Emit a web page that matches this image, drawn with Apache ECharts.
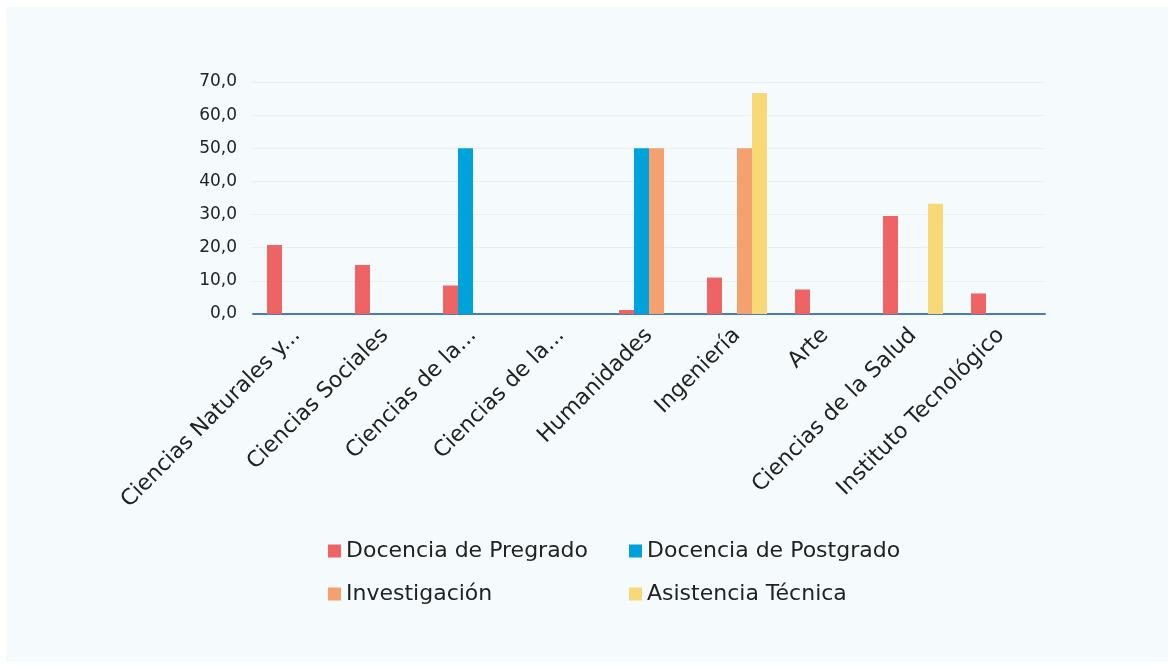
<!DOCTYPE html>
<html>
<head>
<meta charset="utf-8">
<script src="https://cdn.jsdelivr.net/npm/echarts@6/dist/echarts.min.js"></script>
<style>
  html, body { margin: 0; padding: 0; background: #ffffff; }
  #chart { position: absolute; left: 6px; top: 7px; width: 1162px; height: 655px; background: #f5fbfc; }
</style>
</head>
<body>
<div id="chart"></div>
<script>
// categorias (etiquetas ya recortadas como en el original)
var categorias = ['Ciencias Naturales y...', 'Ciencias Sociales', 'Ciencias de la...', 'Ciencias de la...',
  'Humanidades', 'Ingeniería', 'Arte', 'Ciencias de la Salud', 'Instituto Tecnológico'];

var pregrado      = [20.8, 14.8, 8.6, 0, 1.2, 11.0, 7.4, 29.6, 6.2];
var postgrado     = [0, 0, 50.0, 0, 50.0, 0, 0, 0, 0];
var investigacion = [0, 0, 0, 0, 50.0, 50.0, 0, 0, 0];
var asistencia    = [0, 0, 0, 0, 0, 66.7, 0, 33.3, 0];

var nombres = ['Docencia de Pregrado', 'Docencia de Postgrado', 'Investigación', 'Asistencia Técnica'];
var colores = ['#ee6363', '#00a2da', '#f5a06f', '#f8d877'];

var chart = echarts.init(document.getElementById('chart'));

function serie(i, datos) {
  return {
    name: nombres[i],
    type: 'bar',
    data: datos,
    barWidth: 15,
    barGap: '0%',
    itemStyle: { color: colores[i] }
  };
}

var fuente = '"DejaVu Sans", sans-serif';

chart.setOption({
  animation: false,
  textStyle: { fontFamily: fuente },
  grid: { left: 247, right: 123, top: 75, bottom: 348, containLabel: false },
  legend: [{
    orient: 'vertical',
    left: 317, top: 528,
    itemWidth: 13, itemHeight: 13, itemGap: 21,
    icon: 'rect',
    textStyle: { fontSize: 22, color: '#222', fontFamily: fuente },
    data: [nombres[0], nombres[2]]
  }, {
    orient: 'vertical',
    left: 618, top: 528,
    itemWidth: 13, itemHeight: 13, itemGap: 21,
    icon: 'rect',
    textStyle: { fontSize: 22, color: '#222', fontFamily: fuente },
    data: [nombres[1], nombres[3]]
  }],
  xAxis: {
    type: 'category',
    data: categorias,
    axisLine: { lineStyle: { color: '#4a7db3', width: 2 } },
    axisTick: { show: false },
    axisLabel: {
      interval: 0,
      rotate: 45,
      fontSize: 22,
      color: '#222',
      margin: 18,
      fontFamily: fuente
    }
  },
  yAxis: {
    type: 'value',
    min: 0, max: 70, interval: 10,
    axisLine: { show: false },
    axisTick: { show: false },
    splitLine: { lineStyle: { color: '#e9eef1', width: 1 } },
    axisLabel: {
      fontSize: 17,
      color: '#222',
      margin: 16,
      fontFamily: fuente,
      formatter: function (v) { return v.toFixed(1).replace('.', ','); }
    }
  },
  series: [
    serie(0, pregrado),
    serie(1, postgrado),
    serie(2, investigacion),
    serie(3, asistencia)
  ]
});
</script>
</body>
</html>
